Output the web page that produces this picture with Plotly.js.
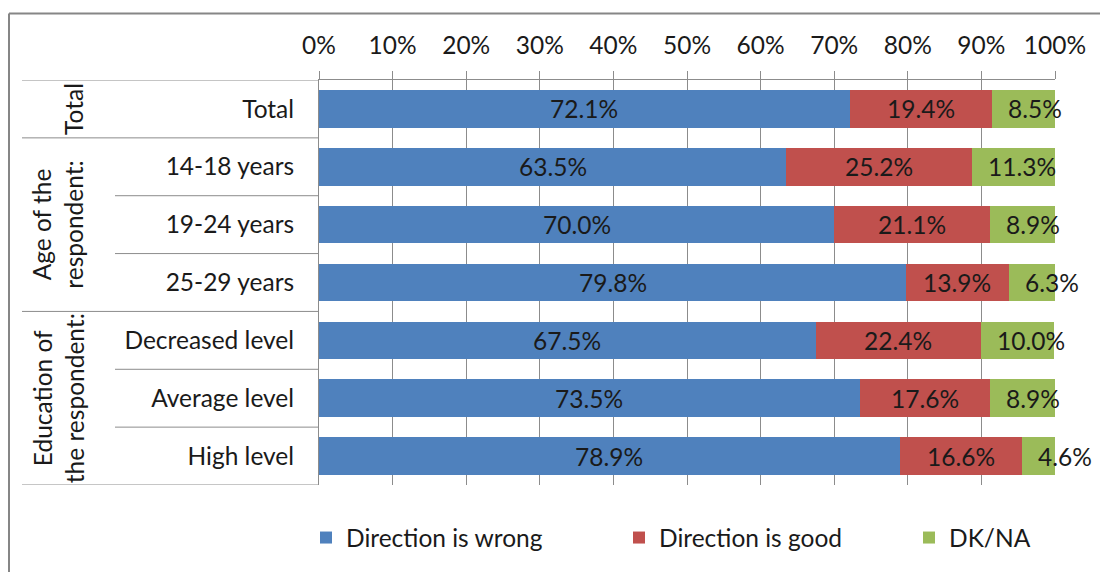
<!DOCTYPE html>
<html>
<head>
<meta charset="utf-8">
<script src="https://cdn.plot.ly/plotly-3.0.1.min.js"></script>
<style>html,body{margin:0;padding:0;background:#fff;}#chart{width:1100px;height:572px;}</style>
</head>
<body>
<div id="chart"></div>
<script>
// ---- data ----
const categories = ['Total', '14-18 years', '19-24 years', '25-29 years', 'Decreased level', 'Average level', 'High level'];
const wrongVals = [72.1, 63.5, 70.0, 79.8, 67.5, 73.5, 78.9];
const goodVals = [19.4, 25.2, 21.1, 13.9, 22.4, 17.6, 16.6];
const dknaVals = [8.5, 11.3, 8.9, 6.3, 10.0, 8.9, 4.6];
const seriesNames = ['Direction is wrong', 'Direction is good', 'DK/NA'];
const groupLabels = ['Total', 'Age of the<br>respondent:', 'Education of<br>the respondent:'];
const groupStart = [0, 1, 4];
const groupEnd = [0, 3, 6];
const xTickVals = [0, 10, 20, 30, 40, 50, 60, 70, 80, 90, 100];
const xTickLabels = ['0%', '10%', '20%', '30%', '40%', '50%', '60%', '70%', '80%', '90%', '100%'];

// ---- style ----
const FONT = 'Lato, "Open Sans", sans-serif';
const FS = 24.5;
const TXT = '#1a1a1a';
const colors = ['#4F81BD', '#C0504D', '#9BBB59'];
const gridCol = '#8C8C8C';
const W = 1100, H = 572, ML = 319, MR = 45, MT = 80, MB = 84;
const PW = W - ML - MR, PH = H - MT - MB;
const px2x = p => (p - ML) / PW;
const px2y = p => (H - MB - p) / PH;
const legendNames = ['legend', 'legend2', 'legend3'];
const legendLeftPx = [306, 619, 909];

const series = [wrongVals, goodVals, dknaVals];
const traces = [];
series.forEach((vals, k) => {
  traces.push({
    type: 'bar', orientation: 'h', name: seriesNames[k],
    x: vals, y: categories, legend: legendNames[k],
    marker: {color: colors[k], line: {width: 0}},
    hoverinfo: 'x+y'
  });
});

const shapes = [];
// outer frame (top and left edges visible)
shapes.push({type: 'line', xref: 'paper', yref: 'paper', x0: px2x(9), x1: px2x(1110), y0: px2y(13), y1: px2y(13), line: {color: '#868686', width: 2}});
shapes.push({type: 'line', xref: 'paper', yref: 'paper', x0: px2x(9), x1: px2x(9), y0: px2y(13), y1: px2y(600), line: {color: '#868686', width: 2}});
// category separators
const groupBoundaries = new Set();
groupStart.forEach(s => groupBoundaries.add(s - 0.5));
groupEnd.forEach(e => groupBoundaries.add(e + 0.5));
for (let i = 0; i <= categories.length; i++) {
  const yv = i - 0.5;
  const left = groupBoundaries.has(yv) ? px2x(22) : px2x(115);
  shapes.push({type: 'line', xref: 'paper', yref: 'y', x0: left, x1: 0, y0: yv, y1: yv, line: {color: gridCol, width: 1}});
}

const annotations = groupLabels.map((g, i) => {
  const mid = (groupStart[i] + groupEnd[i]) / 2;
  const single = g.indexOf('<br>') < 0;
  return {
    text: g, xref: 'paper', yref: 'y', x: single ? px2x(74) : px2x(58), y: mid,
    textangle: -90, showarrow: false, xanchor: 'center', yanchor: 'middle', align: 'center',
    font: {family: FONT, size: FS, color: TXT}
  };
});
// data labels: first two series centred on their segment
[0, 1].forEach(k => {
  series[k].forEach((v, i) => {
    let base = 0;
    for (let j = 0; j < k; j++) base += series[j][i];
    annotations.push({
      text: v.toFixed(1) + '%', xref: 'x', yref: 'y',
      x: base + v / 2, y: categories[i],
      xanchor: 'center', yanchor: 'middle', showarrow: false,
      font: {family: FONT, size: FS, color: TXT}
    });
  });
});
// DK/NA labels sit at the inside base of their segment
dknaVals.forEach((v, i) => {
  annotations.push({
    text: v.toFixed(1) + '%', xref: 'x', yref: 'y',
    x: wrongVals[i] + goodVals[i], y: categories[i],
    xanchor: 'left', yanchor: 'middle', xshift: 14, showarrow: false,
    font: {family: FONT, size: FS, color: TXT}
  });
});

const layout = {
  width: W, height: H,
  margin: {l: ML, r: MR, t: MT, b: MB, pad: 0},
  paper_bgcolor: '#fff', plot_bgcolor: '#fff',
  barmode: 'stack', bargap: 0.35,
  font: {family: FONT, size: FS, color: TXT},
  xaxis: {
    side: 'top', range: [0, 100], tickmode: 'array', tickvals: xTickVals, ticktext: xTickLabels,
    ticks: 'outside', ticklen: 8, tickcolor: gridCol, tickwidth: 1, ticklabelstandoff: 7,
    showline: true, linecolor: gridCol, linewidth: 1,
    showgrid: true, gridcolor: gridCol, gridwidth: 1, zeroline: false,
    tickfont: {family: FONT, size: FS, color: TXT}, fixedrange: true
  },
  yaxis: {
    type: 'category', categoryorder: 'array', categoryarray: categories,
    range: [categories.length - 0.5, -0.5],
    showline: true, linecolor: gridCol, linewidth: 1, showgrid: false, zeroline: false,
    ticks: '', ticklabelstandoff: 19,
    tickfont: {family: FONT, size: FS, color: TXT}, fixedrange: true
  },
  showlegend: true,
  shapes: shapes, annotations: annotations
};
legendNames.forEach((ln, k) => {
  layout[ln] = {
    orientation: 'h', x: px2x(legendLeftPx[k]), xanchor: 'left', y: px2y(541), yanchor: 'middle',
    font: {family: FONT, size: FS, color: TXT}, bgcolor: 'rgba(0,0,0,0)', borderwidth: 0
  };
});

Plotly.newPlot('chart', traces, layout, {displayModeBar: false, staticPlot: true});
</script>
</body>
</html>
